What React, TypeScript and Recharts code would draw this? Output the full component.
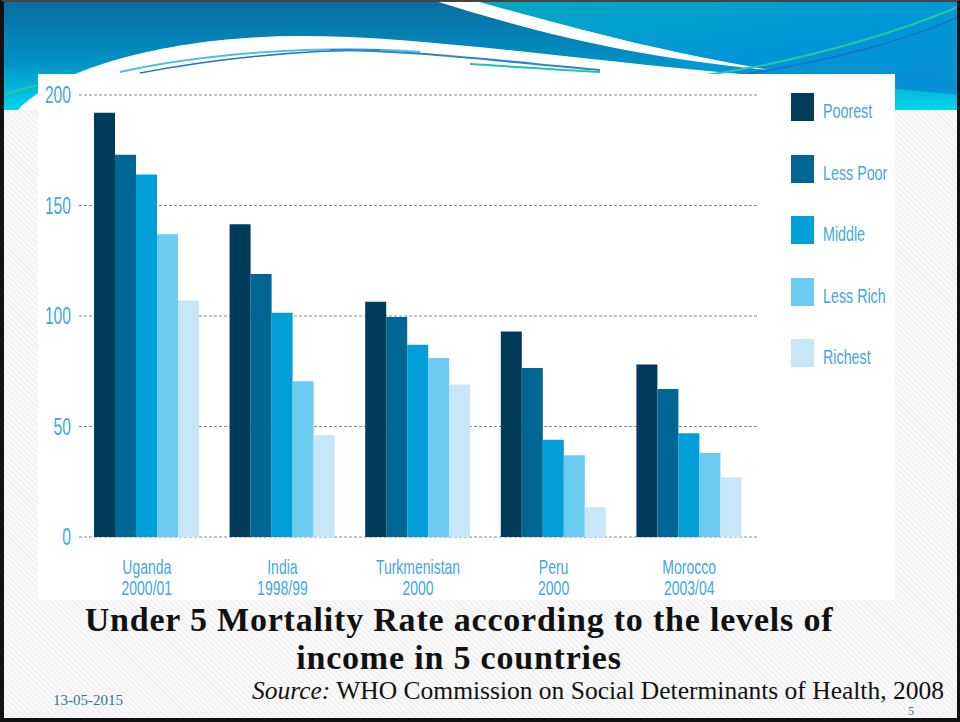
import React from 'react';
import { BarChart, Bar, XAxis, YAxis, CartesianGrid } from 'recharts';

// Under-5 mortality (per 1000) by household income quintile
const countries = ['Uganda', 'India', 'Turkmenistan', 'Peru', 'Morocco'];
const surveyYears = ['2000/01', '1998/99', '2000', '2000', '2003/04'];
const poorest = [192, 141.5, 106.5, 93, 78];
const lessPoor = [173, 119, 99.5, 76.5, 67];
const middle = [164, 101.5, 87, 44, 47];
const lessRich = [137, 70.5, 81, 37, 38];
const richest = [107, 46, 69, 13.5, 27];
const yTicks = [0, 50, 100, 150, 200];

const series = [
  { key: 'poorest', name: 'Poorest', color: '#003b5c', values: poorest },
  { key: 'lessPoor', name: 'Less Poor', color: '#006693', values: lessPoor },
  { key: 'middle', name: 'Middle', color: '#009fd9', values: middle },
  { key: 'lessRich', name: 'Less Rich', color: '#6ccbf1', values: lessRich },
  { key: 'richest', name: 'Richest', color: '#c5e7f7', values: richest },
];

const data = countries.map((c, i) => {
  const row: Record<string, any> = { country: c, year: surveyYears[i] };
  series.forEach((s) => {
    row[s.key] = s.values[i];
  });
  return row;
});

const sans = '"Liberation Sans", Arial, sans-serif';
const serif = '"Liberation Serif", "DejaVu Serif", serif';
const labelBlue = '#43a8dc';

const YTick = (props: any) => {
  const { x, y, payload } = props;
  return (
    <g transform={`translate(${x},${y}) scale(0.68,1)`}>
      <text x={0} y={0} dy={8} textAnchor="end" fill={labelBlue} fontSize={23} fontFamily={sans}>
        {payload.value}
      </text>
    </g>
  );
};

const XTick = (props: any) => {
  const { x, payload, index } = props;
  return (
    <g transform={`translate(${x},0) scale(0.7,1)`}>
      <text x={0} y={574} textAnchor="middle" fill={labelBlue} fontSize={20} fontFamily={sans}>
        {payload.value}
      </text>
      <text x={0} y={595} textAnchor="middle" fill={labelBlue} fontSize={20} fontFamily={sans}>
        {surveyYears[index]}
      </text>
    </g>
  );
};

const Header = () => (
  <svg width={960} height={110} style={{ position: 'absolute', left: 0, top: 0 }}>
    <defs>
      <linearGradient id="hdrLeft" x1="0" y1="0" x2="0" y2="1">
        <stop offset="0" stopColor="#0a6c9f" />
        <stop offset="0.55" stopColor="#0290c4" />
        <stop offset="1" stopColor="#00d6ec" />
      </linearGradient>
      <linearGradient id="hdrRight" x1="0" y1="0" x2="1" y2="1">
        <stop offset="0" stopColor="#05a9c2" />
        <stop offset="0.6" stopColor="#0096d8" />
        <stop offset="1" stopColor="#0a8fd6" />
      </linearGradient>
    </defs>
    <rect x={0} y={0} width={960} height={110} fill="url(#hdrLeft)" />
    <path d="M 460 0 L 960 0 L 960 95 L 720 72 C 640 55, 560 25, 460 0 Z" fill="url(#hdrRight)" />
    <path d="M 432 0 L 472 0 C 560 24, 650 50, 770 70 C 640 58, 540 34, 432 0 Z" fill="#ffffff" />
    <path d="M 18 110 C 60 65, 180 36, 300 36 C 420 36, 560 58, 740 74 L 740 110 Z" fill="#ffffff" />
    <path d="M 120 72 C 200 54, 320 44, 420 52" stroke="#55bde3" strokeWidth={2} fill="none" />
    <path d="M 140 73 C 220 58, 300 50, 380 50" stroke="#1b78c2" strokeWidth={1.5} fill="none" />
    <path d="M 330 50 C 400 50, 470 58, 600 70" stroke="#2a86c8" strokeWidth={2} fill="none" />
    <path d="M 470 64 C 520 67, 560 70, 600 72" stroke="#22c3ae" strokeWidth={2} fill="none" />
    <path d="M 700 76 C 800 62, 900 32, 960 6" stroke="#2fc4a0" strokeWidth={2} fill="none" />
    <path d="M 720 78 C 820 64, 910 40, 960 16" stroke="#1a6fc0" strokeWidth={1.5} fill="none" />
    <path d="M 0 95 C 20 90, 40 84, 60 80" stroke="#2fc4a0" strokeWidth={2} fill="none" />
  </svg>
);

export default function App() {
  return (
    <div
      style={{
        position: 'absolute',
        left: 0,
        top: 0,
        width: 960,
        height: 722,
        overflow: 'hidden',
        background: 'repeating-linear-gradient(45deg, #f1f1f1 0px, #f1f1f1 2px, #fafafa 2px, #fafafa 4px)',
      }}
    >
      <Header />
      <div style={{ position: 'absolute', left: 38, top: 74, width: 857, height: 526, background: '#ffffff' }} />

      <div style={{ position: 'absolute', left: 0, top: 0 }}>
        <BarChart
          width={960}
          height={722}
          data={data}
          margin={{ top: 95, right: 203, bottom: 125, left: 39 }}
          barCategoryGap={15}
          barGap={0}
        >
          <CartesianGrid vertical={false} stroke="#8a8a8a" strokeDasharray="3 2" />
          <XAxis
            dataKey="country"
            axisLine={false}
            tickLine={false}
            interval={0}
            height={60}
            tick={<XTick />}
          />
          <YAxis
            domain={[0, 200]}
            ticks={yTicks}
            width={40}
            axisLine={false}
            tickLine={false}
            tick={<YTick />}
          />
          {series.map((s) => (
            <Bar key={s.key} dataKey={s.key} name={s.name} fill={s.color} isAnimationActive={false} />
          ))}
        </BarChart>
      </div>

      {/* legend */}
      {series.map((s, i) => (
        <div key={s.key} style={{ position: 'absolute', left: 791, top: 93 + i * 61.5, height: 28 }}>
          <div style={{ position: 'absolute', left: 0, top: 0, width: 23, height: 28, background: s.color }} />
          <div
            style={{
              position: 'absolute',
              left: 32,
              top: 6,
              fontFamily: sans,
              fontSize: 21,
              lineHeight: '24px',
              color: labelBlue,
              whiteSpace: 'nowrap',
              transform: 'scaleX(0.68)',
              transformOrigin: 'left',
            }}
          >
            {s.name}
          </div>
        </div>
      ))}

      {/* slide text */}
      <div
        style={{
          position: 'absolute',
          left: 0,
          width: 918,
          top: 601,
          textAlign: 'center',
          fontFamily: serif,
          fontWeight: 'bold',
          fontSize: 34,
          letterSpacing: 0.8,
          lineHeight: '38px',
          color: '#111',
        }}
      >
        Under 5 Mortality Rate according to the levels of
        <br />
        income in 5 countries
      </div>
      <div
        style={{
          position: 'absolute',
          left: 252,
          top: 677,
          fontFamily: serif,
          fontSize: 25.5,
          lineHeight: '28px',
          color: '#111',
          whiteSpace: 'nowrap',
        }}
      >
        <i>Source:</i> WHO Commission on Social Determinants of Health, 2008
      </div>
      <div
        style={{
          position: 'absolute',
          left: 53,
          top: 692,
          fontFamily: serif,
          fontSize: 15,
          color: '#2c7894',
        }}
      >
        13-05-2015
      </div>
      <div
        style={{
          position: 'absolute',
          left: 908,
          top: 705,
          fontFamily: serif,
          fontSize: 12,
          lineHeight: '12px',
          color: '#2c7894',
        }}
      >
        5
      </div>

      {/* slide frame */}
      <div
        style={{
          position: 'absolute',
          left: 0,
          top: 0,
          width: 960,
          height: 722,
          boxSizing: 'border-box',
          borderLeft: '4px solid #111',
          borderRight: '3px solid #111',
          borderBottom: '4px solid #111',
          borderTop: '2px solid #444',
          pointerEvents: 'none',
        }}
      />
    </div>
  );
}
